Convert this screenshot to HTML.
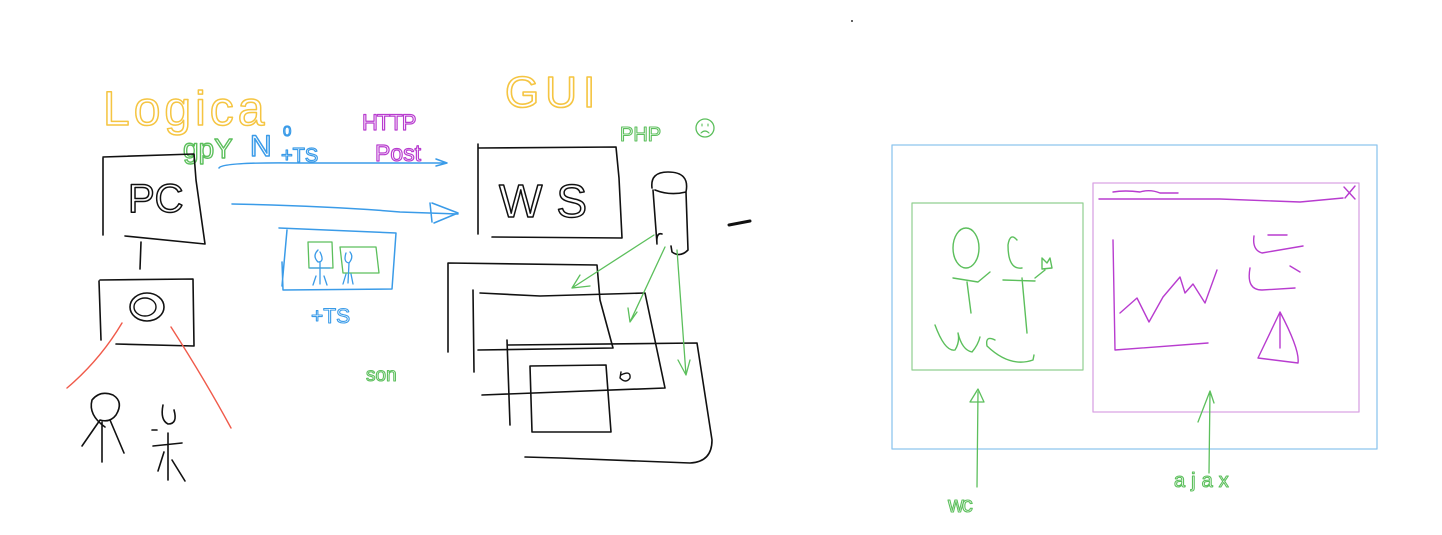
<!DOCTYPE html>
<html><head><meta charset="utf-8"><style>
html,body{margin:0;padding:0;background:#fff;}
svg{display:block}
text{font-family:"Liberation Sans",sans-serif;font-weight:normal}
</style></head><body>
<svg width="1442" height="535" viewBox="0 0 1442 535" fill="none" stroke-linecap="round" stroke-linejoin="round">
<circle cx="852" cy="21" r="1" fill="#333" stroke="none"/>
<!-- LEFT: Logica -->
<text x="103" y="125" font-size="48" fill="none" stroke="#f5c542" stroke-width="1.5" letter-spacing="4">Logica</text>
<text x="183" y="158" font-size="28" fill="none" stroke="#5cbf5c" stroke-width="1.4">gpY</text>
<text x="250" y="156" font-size="30" fill="none" stroke="#3a9be8" stroke-width="1.5">N</text>
<text x="283" y="136" font-size="15" fill="none" stroke="#3a9be8" stroke-width="1.2">0</text>
<text x="281" y="162" font-size="20" fill="none" stroke="#3a9be8" stroke-width="1.2">+TS</text>
<text x="362" y="130" font-size="22" fill="none" stroke="#b83ccf" stroke-width="1.2" letter-spacing="-1">HTTP</text>
<text x="375" y="161" font-size="23" fill="none" stroke="#b83ccf" stroke-width="1.2">Post</text>
<!-- blue arrows -->
<path d="M219 168 Q222 162 300 163 L446 163 M436 159 L447 163 L436 166" stroke="#3a9be8" stroke-width="1.5"/>
<path d="M232 204 Q330 206 400 212 L458 214 M432 203 L458 213 L434 223 M430 203 L432 222" stroke="#3a9be8" stroke-width="1.5"/>
<!-- PC -->
<path d="M103 158 L103 235 M103 157 L194 154 L196 180 L205 244 M125 236 L205 244" stroke="#111" stroke-width="1.6"/>
<text x="128" y="212" font-size="40" fill="none" stroke="#111" stroke-width="1.5">PC</text>
<path d="M141 242 L140 269" stroke="#111" stroke-width="1.6"/>
<!-- camera -->
<path d="M100 280 L193 279 L194 346 M99 281 L101 340 M116 344 L194 346" stroke="#111" stroke-width="1.6"/>
<ellipse cx="147" cy="307" rx="17" ry="14" stroke="#111" stroke-width="1.6"/>
<ellipse cx="145" cy="307" rx="11" ry="9" stroke="#111" stroke-width="1.4"/>
<path d="M122 323 Q100 360 67 388 M171 327 Q205 380 231 428" stroke="#f05a4a" stroke-width="1.4"/>
<!-- stick figures -->
<path d="M105 427 Q88 415 92 400 Q100 390 113 395 Q124 402 116 415 Q110 423 100 420 L82 446 M102 422 L102 462 M110 420 L124 453" stroke="#111" stroke-width="1.6"/>
<path d="M163 405 Q160 420 168 424 Q178 424 174 410 M152 430 L157 430 M153 446 L182 443 M168 433 L168 480 M164 452 L158 471 M172 460 L185 481" stroke="#111" stroke-width="1.6"/>
<!-- blue box -->
<path d="M279 228 L396 233 L392 289 L283 290 L282 262 M287 230 L282 286" stroke="#3a9be8" stroke-width="1.5"/>
<path d="M308 242 L332 242 L333 268 L309 268 Z M340 247 L376 247 L379 273 L343 273 Z" stroke="#5cbf5c" stroke-width="1.3"/>
<path d="M318 250 Q312 256 318 262 Q325 262 320 252 M310 268 L330 268 M320 262 L320 284 M316 276 L313 285 M324 276 L327 285 M346 253 Q343 262 349 263 Q354 257 350 252 M349 263 L348 283 M343 284 L346 274 M353 284 L351 274" stroke="#3a9be8" stroke-width="1.3"/>
<text x="311" y="323" font-size="21" fill="none" stroke="#3a9be8" stroke-width="1.1">+TS</text>
<text x="366" y="381" font-size="19" fill="none" stroke="#5cbf5c" stroke-width="1.1">son</text>
<!-- GUI -->
<text x="505" y="107" font-size="44" fill="none" stroke="#f5c542" stroke-width="1.6" letter-spacing="6">GUI</text>
<text x="620" y="141" font-size="20" fill="none" stroke="#5cbf5c" stroke-width="1.1">PHP</text>
<circle cx="705" cy="128" r="9" stroke="#5cbf5c" stroke-width="1.3"/>
<path d="M702 126 L702 124 M708 126 L708 124 M701 133 Q705 129 709 133" stroke="#5cbf5c" stroke-width="1.1"/>
<!-- WS -->
<path d="M478 144 L478 234 M478 148 L616 147 L619 178 L622 238 L492 237" stroke="#111" stroke-width="1.6"/>
<text x="499" y="217" font-size="46" fill="none" stroke="#111" stroke-width="1.5" letter-spacing="14">WS</text>
<!-- cylinder -->
<path d="M652 188 Q650 172 668 172 Q690 172 686 192 Q670 196 655 190 M653 190 L657 244 Q656 232 662 234 M686 192 L688 250 Q680 258 672 252 L671 246" stroke="#111" stroke-width="1.6"/>
<path d="M729 225 L750 221" stroke="#111" stroke-width="3"/>
<!-- stacked boxes -->
<path d="M448 263 L597 265 L600 300 L613 348 L478 350 M448 263 L448 352" stroke="#111" stroke-width="1.6"/>
<path d="M480 293 L540 296 L645 293 L665 388 L482 395 M473 290 L474 372" stroke="#111" stroke-width="1.6"/>
<path d="M507 345 L697 343 L712 440 Q712 462 690 463 L560 458 L525 457 M507 340 L510 425" stroke="#111" stroke-width="1.6"/>
<path d="M530 366 L606 365 L611 432 L532 432 Z" stroke="#111" stroke-width="1.6"/>
<path d="M621 375 Q631 370 630 378 Q626 384 620 378 L621 372" stroke="#111" stroke-width="1.4"/>
<!-- green arrows -->
<path d="M654 235 L572 288 M580 275 L572 288 L590 286" stroke="#5cbf5c" stroke-width="1.3"/>
<path d="M665 247 L630 322 M628 308 L630 322 L637 312" stroke="#5cbf5c" stroke-width="1.3"/>
<path d="M677 250 L686 375 M678 360 L686 375 L690 360" stroke="#5cbf5c" stroke-width="1.3"/>
<!-- RIGHT -->
<rect x="892" y="145" width="485" height="304" stroke="#8ec5ee" stroke-width="1.3"/>
<rect x="912" y="203" width="171" height="167" stroke="#90cf90" stroke-width="1.2"/>
<rect x="1093" y="183" width="266" height="229" stroke="#d9a3e3" stroke-width="1.3"/>
<path d="M1099 199 L1220 199 L1300 202 L1343 198 M1113 192 Q1125 190 1140 192 Q1150 189 1160 193 L1178 193 M1344 187 L1355 199 M1355 186 L1345 198" stroke="#b83ccf" stroke-width="1.4"/>
<path d="M1113 240 L1115 350 L1208 343 M1120 313 L1137 298 L1149 322 L1163 297 L1180 277 L1185 293 L1193 284 L1205 303 L1217 270" stroke="#b83ccf" stroke-width="1.4"/>
<path d="M1254 236 Q1252 250 1262 253 L1303 246 M1268 235 L1287 235 M1250 268 Q1246 290 1262 290 L1295 288 M1290 266 L1300 272" stroke="#b83ccf" stroke-width="1.4"/>
<path d="M1280 312 L1258 358 L1298 363 Q1300 350 1280 312 L1280 348" stroke="#b83ccf" stroke-width="1.4"/>
<!-- green figures -->
<ellipse cx="966" cy="248" rx="13" ry="20" stroke="#5cbf5c" stroke-width="1.4"/>
<path d="M953 278 L978 282 L990 272 M967 282 L971 313" stroke="#5cbf5c" stroke-width="1.4"/>
<path d="M1022 268 Q1008 270 1008 245 Q1010 232 1017 240 M1003 280 L1035 281 M1022 278 L1027 333 M1035 278 L1045 270 M1042 269 L1042 258 L1047 263 L1050 258 L1052 268 Z" stroke="#5cbf5c" stroke-width="1.4"/>
<path d="M935 325 Q945 352 955 350 Q960 342 958 333 Q962 350 972 352 Q978 345 980 337 M995 340 Q985 335 987 346 Q1010 368 1033 360 L1034 355" stroke="#5cbf5c" stroke-width="1.4"/>
<path d="M977 487 L978 392 M970 402 L978 389 L984 402 Z" stroke="#5cbf5c" stroke-width="1.3"/>
<path d="M1209 473 L1210 392 M1198 422 L1210 391 L1214 403" stroke="#5cbf5c" stroke-width="1.3"/>
<text x="948" y="512" font-size="22" fill="none" stroke="#5cbf5c" stroke-width="1.1" letter-spacing="-2">wc</text>
<text x="1174" y="487" font-size="20" fill="none" stroke="#5cbf5c" stroke-width="1.1" letter-spacing="6">ajax</text>
</svg>
</body></html>
